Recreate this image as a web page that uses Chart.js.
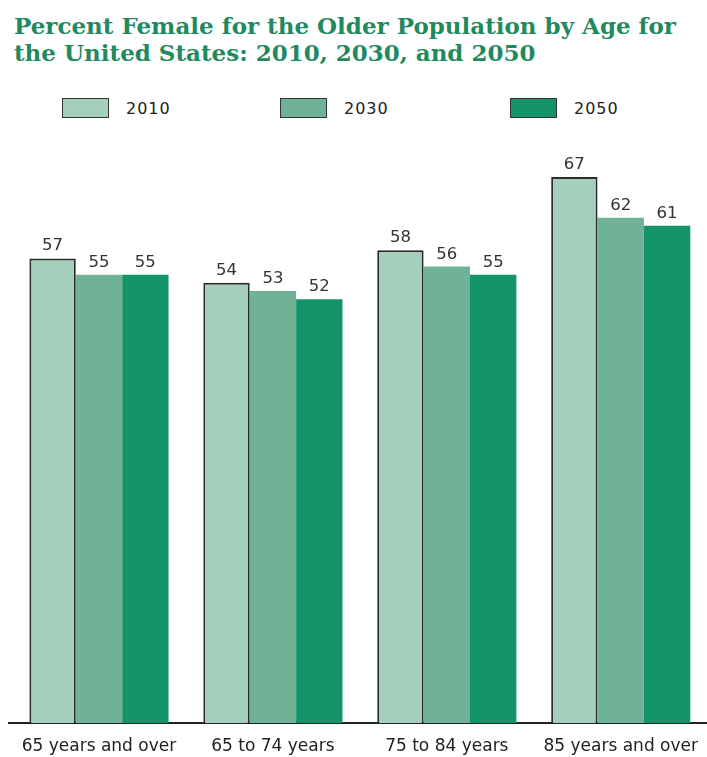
<!DOCTYPE html>
<html>
<head>
<meta charset="utf-8">
<script src="https://cdn.jsdelivr.net/npm/chart.js@4"></script>
<style>
  html, body { margin: 0; padding: 0; background: #fff; }
  #wrap { position: relative; width: 707px; height: 757px; overflow: hidden; }
  #title { position: absolute; left: 14px; top: 12px; font-family: "DejaVu Serif", serif; font-weight: bold; font-size: 23px; line-height: 27px; color: #1f8a5e; }
  .lg { position: absolute; top: 98px; height: 20px; font-family: "DejaVu Sans", sans-serif; font-size: 16px; color: #222; }
  .lg .box { position: absolute; left: 0; top: 0; width: 45px; height: 18px; border: 1.5px solid #333; }
  .lg .txt { position: absolute; top: 1px; letter-spacing: 1px; }
  canvas { position: absolute; left: 0; top: 0; }
</style>
</head>
<body>
<div id="wrap">
  <div id="title">Percent Female for the Older Population by Age for<br>the United States: 2010, 2030, and 2050</div>
  <div id="legend"></div>
  <canvas id="c" width="711" height="757"></canvas>
</div>
<script>
const categories = ["65 years and over", "65 to 74 years", "75 to 84 years", "85 years and over"];
const seriesNames = ["2010", "2030", "2050"];
const values2010 = [57, 54, 58, 67];
const values2030 = [55, 53, 56, 62];
const values2050 = [55, 52, 55, 61];
const colors = ["#a4cfba", "#70b296", "#15946a"];
const legendX = [62, 280, 510];

const seriesValues = [values2010, values2030, values2050];

// HTML legend
const lg = document.getElementById('legend');
seriesNames.forEach((n, i) => {
  const d = document.createElement('div');
  d.className = 'lg';
  d.style.left = legendX[i] + 'px';
  d.innerHTML = '<div class="box" style="background:' + colors[i] + '"></div><div class="txt" style="left:64px">' + n + '</div>';
  lg.appendChild(d);
});

const valueLabels = {
  id: 'valueLabels',
  afterDatasetsDraw(chart) {
    const ctx = chart.ctx;
    ctx.save();
    ctx.font = '16.5px "DejaVu Sans", sans-serif';
    ctx.fillStyle = '#333';
    ctx.textAlign = 'center';
    ctx.textBaseline = 'bottom';
    chart.data.datasets.forEach((ds, di) => {
      const meta = chart.getDatasetMeta(di);
      meta.data.forEach((bar, i) => {
        ctx.fillText(String(ds.data[i]), bar.x, bar.y - 4);
      });
    });
    ctx.restore();
  }
};

const axisExtend = {
  id: 'axisExtend',
  afterDraw(chart) {
    const ctx = chart.ctx, a = chart.chartArea;
    ctx.save();
    ctx.strokeStyle = '#222';
    ctx.lineWidth = 2;
    ctx.beginPath();
    ctx.moveTo(8, a.bottom);
    ctx.lineTo(a.left, a.bottom);
    ctx.stroke();
    ctx.restore();
  }
};

new Chart(document.getElementById('c'), {
  type: 'bar',
  data: {
    labels: categories,
    datasets: seriesNames.map((n, i) => ({
      label: n,
      data: seriesValues[i],
      backgroundColor: colors[i],
      borderColor: i === 0 ? '#2b2b2b' : colors[i],
      borderWidth: i === 0 ? { top: 2, left: 2, right: 2, bottom: 0 } : 0,
      borderSkipped: 'bottom',
      categoryPercentage: 0.8,
      barPercentage: 1.0
    }))
  },
  options: {
    responsive: false,
    animation: false,
    layout: { padding: { top: 150, left: 12, right: 0, bottom: 0 } },
    plugins: { legend: { display: false }, title: { display: false }, tooltip: { enabled: false } },
    scales: {
      x: {
        grid: { display: false, drawTicks: false },
        border: { display: true, color: '#222', width: 2 },
        ticks: { color: '#222', font: { family: '"DejaVu Sans", sans-serif', size: 17 }, padding: 13, maxRotation: 0, autoSkip: false },
        afterFit(s) { s.height = 34; }
      },
      y: {
        display: false,
        min: 0,
        max: 70.3
      }
    }
  },
  plugins: [valueLabels, axisExtend]
});
</script>
</body>
</html>
